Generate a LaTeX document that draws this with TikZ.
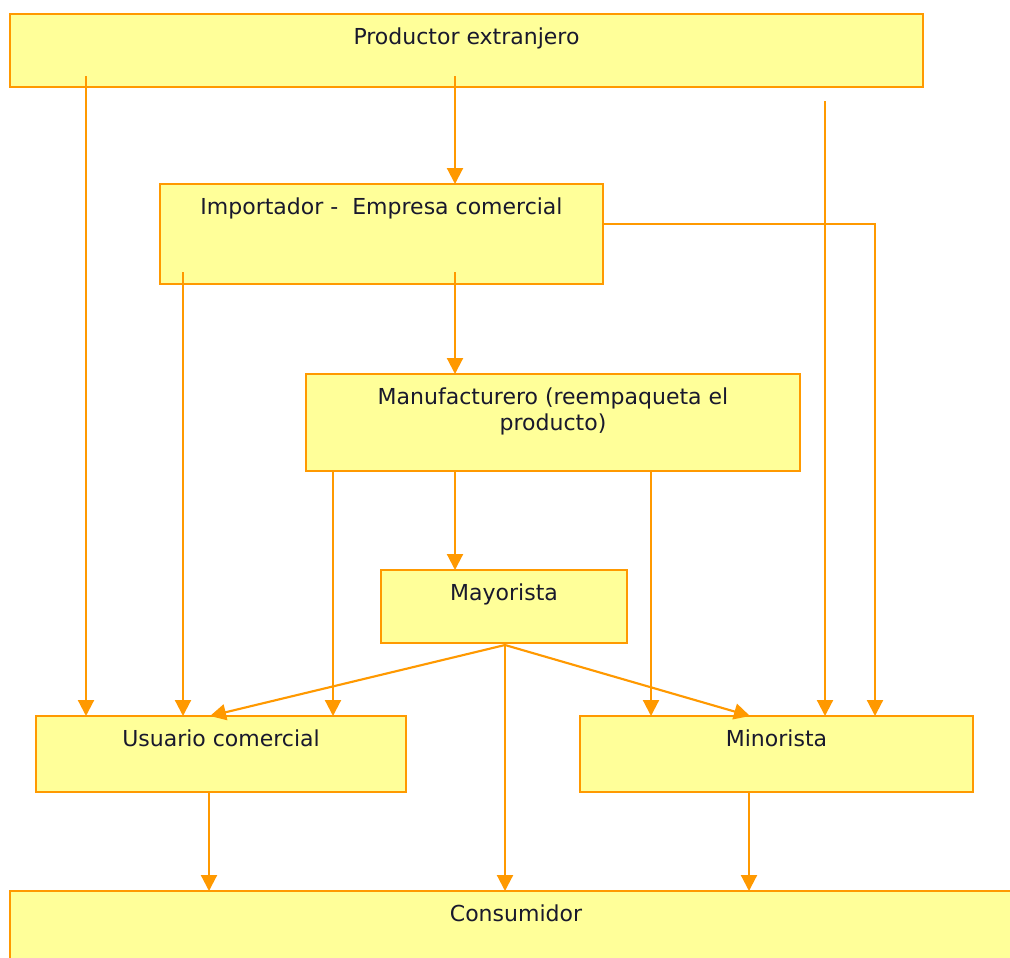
\documentclass[tikz,border=0pt]{standalone}
\usepackage{fontspec}
\setmainfont{DejaVu Sans}
\usetikzlibrary{arrows.meta,calc}

\definecolor{flow}{RGB}{255,153,0}
\definecolor{boxfill}{RGB}{255,255,153}
\definecolor{ink}{RGB}{25,25,45}

\begin{document}
\begin{tikzpicture}[
  x=0.75pt, y=-0.75pt,
  box/.style={draw=flow, fill=boxfill, line width=1.6pt, outer sep=0pt,
              inner sep=0pt, anchor=north west},
  size/.style 2 args={minimum width=#1*0.75pt, minimum height=#2*0.75pt},
  lbl/.style={anchor=north, yshift=-10pt, inner sep=0pt, align=center,
              text=ink, font=\fontsize{16.5}{19.5}\selectfont},
  arr/.style={draw=flow, line width=1.6pt,
              -{Triangle[width=12pt,length=12pt]}}
]
\useasboundingbox (0,0) rectangle (1010,957);
\fill[white] (0,0) rectangle (1010,957);
\clip (0,0) rectangle (1010,957);

% boxes
\node[box, size={913}{73},  label={[lbl]north:Productor extranjero}] (prod) at (10,14) {};
\node[box, size={443}{100}, label={[lbl]north:Importador -\ \ Empresa comercial}] (imp) at (160,184) {};
\node[box, size={494}{97},  label={[lbl]north:Manufacturero (reempaqueta el\\producto)}] (manu) at (306,374) {};
\node[box, size={246}{73},  label={[lbl]north:Mayorista}] (mayo) at (381,570) {};
\node[box, size={370}{76},  label={[lbl]north:Usuario comercial}] (usu) at (36,716) {};
\node[box, size={393}{76},  label={[lbl]north:Minorista}] (mino) at (580,716) {};
\node[box, size={1012}{100}, label={[lbl]north:Consumidor}] (cons) at (10,891) {};

% from the foreign producer
\draw[arr] ($(prod.south west)+(76,-11)$) coordinate (p1) -- (p1 |- usu.north);
\draw[arr] ($(prod.south west)+(445,-11)$) coordinate (p2) -- (p2 |- imp.north);
\draw[arr] ($(prod.south west)+(815,14)$) coordinate (p3) -- (p3 |- mino.north);

% from the importer
\draw[arr] ($(imp.south west)+(23,-12)$) coordinate (i1) -- (i1 |- usu.north);
\draw[arr] ($(imp.south west)+(295,-12)$) coordinate (i2) -- (i2 |- manu.north);
\draw[arr] ($(imp.north east)+(0,40)$) -| ($(mino.north west)+(295,0)$);

% from the manufacturer
\draw[arr] ($(manu.south west)+(27,0)$) coordinate (f1) -- (f1 |- usu.north);
\draw[arr] ($(manu.south west)+(149,0)$) coordinate (f2) -- (f2 |- mayo.north);
\draw[arr] ($(manu.south west)+(345,0)$) coordinate (f3) -- (f3 |- mino.north);

% from the wholesaler
\coordinate (w) at ($(mayo.south west)+(124,2)$);
\draw[arr] (w) -- ($(usu.north west)+(174,0)$);
\draw[arr] (w) -- ($(mino.north west)+(170,0)$);
\draw[arr] (w) -- (w |- cons.north);

% to the consumer
\draw[arr] ($(usu.south west)+(173,0)$) coordinate (u1) -- (u1 |- cons.north);
\draw[arr] ($(mino.south west)+(169,0)$) coordinate (r1) -- (r1 |- cons.north);
\end{tikzpicture}
\end{document}
